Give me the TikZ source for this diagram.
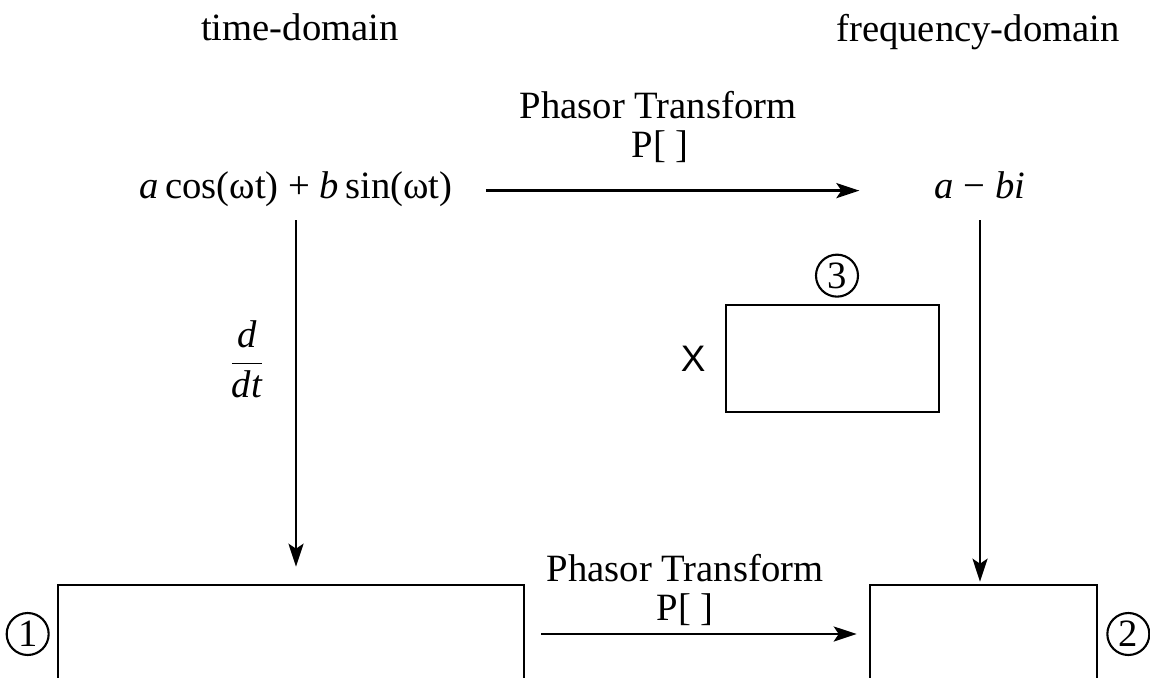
\documentclass[tikz,border=0pt]{standalone}
\usepackage{fontspec}
\setmainfont{Liberation Serif}
\newfontfamily\xfont{Liberation Sans}
\usepackage{tikz}
\usetikzlibrary{arrows.meta, positioning, calc}

\begin{document}
\begin{tikzpicture}[
        x=0.02cm, y=-0.02cm,
        every node/.style = {font=\fontsize{22}{24}\selectfont, inner sep=0pt},
        txt/.style = {anchor=base, text height=0.75em, text depth=0.25em},
        box/.style = {draw, line width=1.5pt, rectangle},
        circnum/.style = {draw, circle, line width=1.2pt, minimum size=0.84cm},
        arrow/.style = {line width=1.5pt, -{Stealth[length=0.46cm, width=0.3cm, inset=0.1cm]}}
    ]
        \useasboundingbox (0,0) rectangle (1150,677);

        % Headings
        \node [txt] (time) at (300,40) {time-domain};
        \node [txt] (freq) at (978,41) {frequency-domain};

        % Expressions
        \node [txt] (tfn) at (296,198) {\textit{a}\,cos(ωt) + \textit{b}\,sin(ωt)};
        \node [txt] (phasor) at (980,198) {\textit{a} − \textit{bi}};

        % Boxes
        \node [box, minimum width=9.32cm, minimum height=1.96cm] (box1) at (291,634) {};
        \node [box, minimum width=4.54cm, minimum height=1.96cm] (box2) at (983.5,634) {};
        \node [box, minimum width=4.26cm, minimum height=2.14cm] (box3) at (832.5,358.5) {};
        \node [circnum, left=0.14cm of box1] (c1) {1};
        \node [circnum, right=0.16cm of box2] (c2) {2};
        \node [circnum, above=0.12cm of box3, xshift=0.09cm] (c3) {3};
        \node [left=0.38cm of box3, font=\fontsize{21}{21}\xfont\selectfont] (mult) {X};

        % Transform labels
        \node [txt] (ptop) at (658,118) {Phasor Transform};
        \node [txt] (ptopp) at (660,157) {P[ ]};
        \node [txt] (pbot) at (685,581) {Phasor Transform};
        \node [txt] (pbotp) at (685,620) {P[ ]};
        \node (deriv) at (247,359) {$\displaystyle\frac{\textit{d}}{\textit{dt}}$};

        % Connections
        \draw [arrow, shorten <=0.66cm, shorten >=1.5cm] ([yshift=0.06cm]tfn.east) -- ([yshift=0.06cm]phasor.west);
        \draw [arrow, shorten <=0.35cm, shorten >=0.34cm] (tfn.south) -- (tfn.south |- box1.north);
        \draw [arrow, shorten <=0.35cm, shorten >=0.04cm] (phasor.south) -- (phasor.south |- box2.north);
        \draw [arrow, shorten <=0.32cm, shorten >=0.24cm] (box1.east) -- (box2.west);
    \end{tikzpicture}
\end{document}
